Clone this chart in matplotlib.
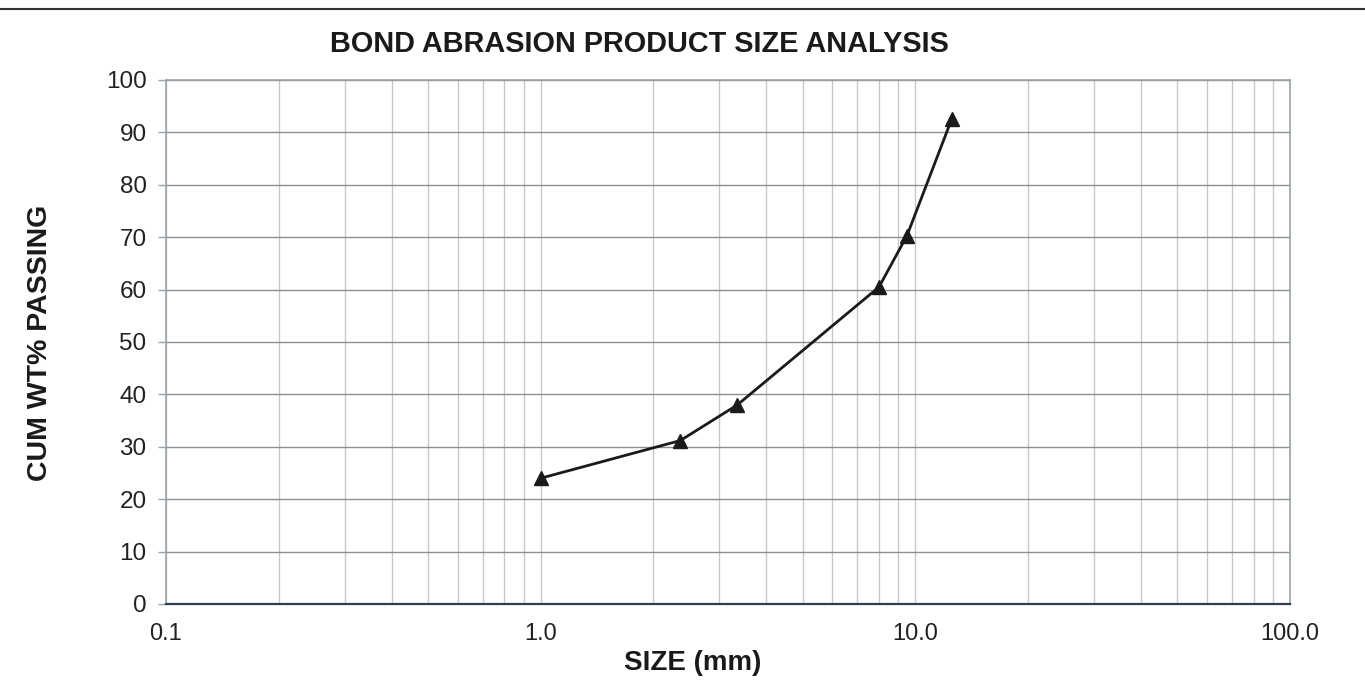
import numpy as np
import matplotlib.pyplot as plt
from matplotlib.lines import Line2D
from matplotlib.ticker import FixedLocator, FixedFormatter, LogLocator, NullFormatter

plt.rcParams['font.family'] = ['Liberation Sans', 'DejaVu Sans']

# sieve sizes (mm) and cumulative wt% passing
size_mm = [1.0, 2.36, 3.35, 8.0, 9.5, 12.5]
cum_passing = [24.0, 31.2, 38.0, 60.5, 70.3, 92.5]

x_ticks = [0.1, 1.0, 10.0, 100.0]
x_labels = ["0.1", "1.0", "10.0", "100.0"]
y_ticks = list(range(0, 101, 10))

W, H = 1365, 689
fig = plt.figure(figsize=(W / 100, H / 100), dpi=100)
ax = fig.add_axes([166/W, 1 - 604/H, (1290 - 166)/W, (604 - 80)/H])

ax.set_xscale('log')
ax.set_xlim(0.1, 100)
ax.set_ylim(0, 100)

# grid: light verticals on every decade step, darker horizontals
ax.xaxis.set_major_locator(FixedLocator(x_ticks))
ax.xaxis.set_major_formatter(FixedFormatter(x_labels))
ax.xaxis.set_minor_locator(LogLocator(base=10, subs=np.arange(2, 10)))
ax.xaxis.set_minor_formatter(NullFormatter())
ax.set_yticks(y_ticks)
ax.grid(True, axis='x', which='both', color='#c8c8c8', lw=1.0)
ax.grid(True, axis='y', which='major', color='#8a8f94', lw=1.0)
ax.set_axisbelow(True)

for side in ['top', 'right', 'left']:
    ax.spines[side].set_color('#9aa3a8')
    ax.spines[side].set_linewidth(1.2)
ax.spines['bottom'].set_color('#2c3e50')
ax.spines['bottom'].set_linewidth(1.6)

ax.tick_params(axis='x', which='both', length=0, pad=14, labelsize=17, colors='#222222')
ax.tick_params(axis='y', length=6, width=1, color='#9aa3a8', pad=8, labelsize=17.5, labelcolor='#222222')

ax.plot(size_mm, cum_passing, color='#1a1a1a', lw=2.0, marker='^', ms=10,
        markerfacecolor='#1a1a1a', markeredgecolor='#1a1a1a', zorder=5, clip_on=False)

fig.text(693/W, 1 - 663/H, "SIZE (mm)", ha='center', va='center',
         fontsize=20, fontweight='bold', color='#1a1a1a')
fig.text(40/W, 1 - 343/H, "CUM WT% PASSING", ha='center', va='center', rotation=90,
         fontsize=20.5, fontweight='bold', color='#1a1a1a')
fig.text(639/W, 1 - 44/H, "BOND ABRASION PRODUCT SIZE ANALYSIS",
         ha='center', va='center', fontsize=20.8, fontweight='bold', color='#1a1a1a')

# scanned page rule at the top
fig.add_artist(Line2D([0, 1], [1 - 9/H, 1 - 9/H], color='#333333', lw=1.5,
                      transform=fig.transFigure))

fig.savefig('out.png', dpi=100)
